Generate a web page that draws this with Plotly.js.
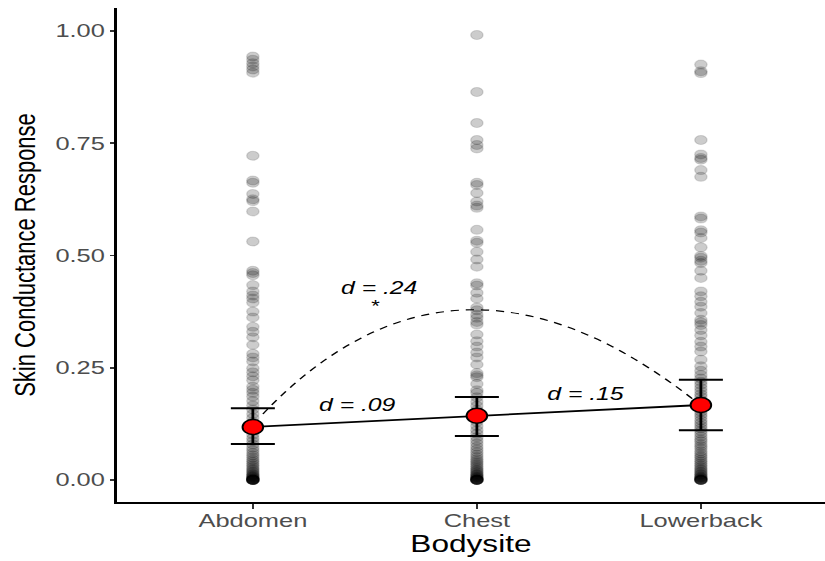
<!DOCTYPE html>
<html>
<head>
<meta charset="utf-8">
<script src="https://cdn.plot.ly/plotly-3.0.1.min.js"></script>
<style>
  html, body { margin: 0; padding: 0; background: #ffffff; overflow: hidden; }
  /* the figure is laid out at 600px and widened to the 825px page */
  #chart { width: 600px; height: 561px; transform: scaleX(1.375); transform-origin: 0 0; }
</style>
</head>
<body>
<div id="chart"></div>
<script>
// Body sites (x categories)
const bodysites = ["Abdomen", "Chest", "Lowerback"];

// Individual skin conductance responses per body site
const abdomenSCR = [0.943,0.936,0.928,0.921,0.914,0.907,0.722,0.667,0.662,0.637,0.625,0.621,0.598,0.531,
  0.466,0.461,0.456,0.434,0.420,0.411,0.404,0.395,0.375,0.362,0.341,0.330,0.318,0.301,0.281,0.273,0.264,
  0.249,0.240,0.231,0.222,0.208,0.201,0.194,0.186,0.176,0.166,0.157,0.147,0.138,0.129,
  0.120,0.110,0.101,0.093,0.086,0.079,0.072,0.066,0.060,0.055,0.050,0.045,0.041,
  0.037,0.033,0.029,0.025,0.022,0.019,0.016,0.013,0.011,0.009,0.007,0.006,0.004,0.003,0.002,0.001,
  0.001,0.000,0.000,0.000,0.000,0.000,0.000,0.000];
const chestSCR = [0.991,0.864,0.795,0.757,0.746,0.738,0.662,0.657,0.639,0.620,0.611,0.606,0.557,0.533,
  0.528,0.508,0.491,0.475,0.438,0.433,0.417,0.404,0.384,0.378,0.368,0.361,0.352,0.346,0.324,0.309,0.297,
  0.284,0.273,0.257,0.238,0.233,0.229,0.214,0.200,0.194,0.184,0.174,0.165,0.156,0.147,0.138,
  0.129,0.120,0.111,0.103,0.095,0.088,0.081,0.074,0.068,0.062,0.056,0.051,0.046,
  0.042,0.038,0.034,0.030,0.026,0.023,0.020,0.017,0.014,0.012,0.010,0.008,0.006,0.005,0.003,0.002,
  0.001,0.001,0.000,0.000,0.000,0.000,0.000,0.000];
const lowerbackSCR = [0.925,0.910,0.906,0.757,0.725,0.717,0.713,0.690,0.675,0.587,0.582,0.556,0.551,0.539,
  0.518,0.499,0.495,0.488,0.483,0.466,0.450,0.420,0.409,0.397,0.386,0.372,0.357,0.351,0.345,0.334,0.322,
  0.308,0.297,0.286,0.268,0.253,0.243,0.234,0.226,0.219,0.212,0.205,0.198,0.191,0.185,0.178,0.172,0.165,
  0.159,0.152,0.146,0.140,0.133,0.127,0.121,0.115,0.109,0.103,0.097,0.091,0.086,0.080,0.075,0.070,0.064,
  0.059,0.054,0.050,0.045,0.041,0.037,0.033,0.029,0.025,0.022,0.019,0.016,0.013,0.011,0.008,0.006,0.005,
  0.003,0.002,0.001,0.000,0.000,0.000,0.000,0.000];

// Estimated means with confidence limits
const meanSCR = [0.118, 0.143, 0.167];
const ciLow   = [0.080, 0.098, 0.111];
const ciHigh  = [0.160, 0.185, 0.223];

// Effect sizes between sites
const effectLabels = ["d = .09", "d = .15", "d = .24"];
const sigMark = "*";
const yTickVals = [0, 0.25, 0.5, 0.75, 1];

const siteValues = [abdomenSCR, chestSCR, lowerbackSCR];
const FONT = "Liberation Sans, Arial, Helvetica, sans-serif";

const traces = [];
siteValues.forEach((vals, i) => {
  traces.push({
    type: "scatter", mode: "markers",
    x: vals.map(() => i), y: vals,
    marker: { size: 9, color: "rgba(0,0,0,0.2)", line: { color: "rgba(0,0,0,0.13)", width: 1 } },
    hoverinfo: "skip", showlegend: false
  });
});

traces.push({
  type: "scatter", mode: "lines+markers",
  x: bodysites.map((_, i) => i), y: meanSCR,
  line: { color: "#000000", width: 1.8 },
  marker: { size: 15, color: "#ff0000", line: { color: "#000000", width: 1.4 } },
  error_y: {
    type: "data", symmetric: false,
    array: ciHigh.map((v, i) => v - meanSCR[i]),
    arrayminus: meanSCR.map((v, i) => v - ciLow[i]),
    color: "#000000", thickness: 2, width: 16
  },
  showlegend: false, hoverinfo: "skip"
});

const layout = {
  width: 600, height: 561,
  margin: { l: 85, r: 0, t: 8, b: 59 },
  paper_bgcolor: "#ffffff", plot_bgcolor: "#ffffff",
  showlegend: false,
  font: { family: FONT, color: "#000000" },
  xaxis: {
    range: [-0.607, 2.554],
    tickvals: bodysites.map((_, i) => i), ticktext: bodysites,
    showgrid: false, zeroline: false,
    showline: true, linecolor: "#000000", linewidth: 2,
    ticks: "outside", ticklen: 5, tickwidth: 1.6, tickcolor: "#333333",
    ticklabelstandoff: -4,
    tickfont: { family: FONT, size: 18.5, color: "#4d4d4d" },
    title: { text: "Bodysite", font: { family: FONT, size: 23, color: "#000000" }, standoff: 4 }
  },
  yaxis: {
    range: [-0.049, 1.051],
    tickvals: yTickVals, tickformat: ".2f",
    showgrid: false, zeroline: false,
    showline: true, linecolor: "#000000", linewidth: 2,
    ticks: "outside", ticklen: 3, tickwidth: 1.6, tickcolor: "#333333",
    tickfont: { family: FONT, size: 18.5, color: "#4d4d4d" },
    title: { text: "Skin Conductance Response", font: { family: FONT, size: 22, color: "#000000" }, standoff: 8 }
  },
  shapes: [{
    // curved connector between Abdomen and Lowerback
    type: "path", xref: "x", yref: "y",
    path: "M 0.045,0.147 Q 0.9,0.594 1.964,0.180",
    line: { color: "#000000", width: 1.2, dash: "6px,5px" },
    layer: "above"
  }],
  annotations: [
    { x: 0.469, y: 0.167, xref: "x", yref: "y", text: "<i>" + effectLabels[0] + "</i>", showarrow: false,
      font: { family: FONT, size: 18, color: "#000000" } },
    { x: 1.487, y: 0.192, xref: "x", yref: "y", text: "<i>" + effectLabels[1] + "</i>", showarrow: false,
      font: { family: FONT, size: 18, color: "#000000" } },
    { x: 0.567, y: 0.428, xref: "x", yref: "y", text: "<i>" + effectLabels[2] + "</i>", showarrow: false,
      font: { family: FONT, size: 18, color: "#000000" } },
    { x: 0.549, y: 0.387, xref: "x", yref: "y", text: sigMark, showarrow: false,
      font: { family: FONT, size: 16, color: "#000000" } }
  ]
};

Plotly.newPlot("chart", traces, layout, { staticPlot: true, displayModeBar: false });
</script>
</body>
</html>
